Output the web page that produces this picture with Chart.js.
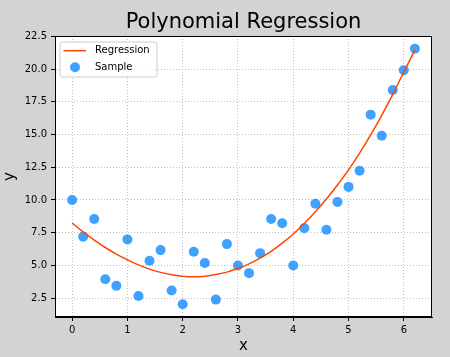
<!DOCTYPE html>
<html>
<head>
<meta charset="utf-8">
<script src="https://cdn.jsdelivr.net/npm/chart.js@4/dist/chart.umd.min.js"></script>
<style>
  html, body { margin: 0; padding: 0; background: #d3d3d3; }
  #wrap { width: 450px; height: 357px; }
</style>
</head>
<body>
<div id="wrap"><canvas id="c" width="450" height="357"></canvas></div>
<script>
// ---- data ----
const sampleX = [0, 0.2, 0.4, 0.6, 0.8, 1.0, 1.2, 1.4, 1.6, 1.8, 2.0, 2.2, 2.4, 2.6, 2.8, 3.0,
                 3.2, 3.4, 3.6, 3.8, 4.0, 4.2, 4.4, 4.6, 4.8, 5.0, 5.2, 5.4, 5.6, 5.8, 6.0, 6.2];
const sampleY = [10.0, 7.2, 8.55, 3.95, 3.44, 6.99, 2.67, 5.36, 6.17, 3.08, 2.04, 6.05, 5.18, 2.39, 6.63, 5.0,
                 4.41, 5.94, 8.55, 8.22, 5.0, 7.85, 9.72, 7.73, 9.85, 11.0, 12.24, 16.52, 14.91, 18.41, 19.92, 21.55];
const regressionX = [0, 0.2, 0.4, 0.6, 0.8, 1.0, 1.2, 1.4, 1.6, 1.8, 2.0, 2.2, 2.4, 2.6, 2.8, 3.0,
                     3.2, 3.4, 3.6, 3.8, 4.0, 4.2, 4.4, 4.6, 4.8, 5.0, 5.2, 5.4, 5.6, 5.8, 6.0, 6.2];
const regressionY = [8.24, 7.56, 6.94, 6.37, 5.86, 5.42, 5.04, 4.72, 4.47, 4.29, 4.18, 4.14, 4.18, 4.30, 4.49, 4.76,
                     5.12, 5.56, 6.08, 6.70, 7.40, 8.20, 9.10, 10.08, 11.15, 12.30, 13.58, 14.97, 16.47, 18.07, 19.78, 21.45];
const xTicks = [0, 1, 2, 3, 4, 5, 6];
const xTickLabels = ['0', '1', '2', '3', '4', '5', '6'];
const yTicks = [2.5, 5, 7.5, 10, 12.5, 15, 17.5, 20, 22.5];
const yTickLabels = ['2.5', '5.0', '7.5', '10.0', '12.5', '15.0', '17.5', '20.0', '22.5'];
const labels = { title: 'Polynomial Regression', x: 'x', y: 'y', line: 'Regression', points: 'Sample' };

const FONT = "'DejaVu Sans', 'Liberation Sans', sans-serif";
const LINE_COLOR = '#ff4500';
const POINT_COLOR = 'rgba(30,144,255,0.85)';

const bgPlugin = {
  id: 'bg',
  beforeDraw(chart) {
    const { ctx, chartArea: a } = chart;
    ctx.save();
    ctx.fillStyle = '#d3d3d3';
    ctx.fillRect(0, 0, chart.width, chart.height);
    ctx.fillStyle = '#ffffff';
    ctx.fillRect(a.left, a.top, a.right - a.left, a.bottom - a.top);
    ctx.restore();
  },
  afterDraw(chart) {
    const { ctx, chartArea: a } = chart;
    ctx.save();
    ctx.strokeStyle = '#000';
    ctx.lineWidth = 1;
    ctx.strokeRect(Math.round(a.left) + 0.5, Math.round(a.top) + 0.5,
                   Math.round(a.right - a.left) - 1, Math.round(a.bottom - a.top) - 1);
    // legend inside the plot, upper left
    const ds = chart.data.datasets;
    const bx = a.left + 5, by = a.top + 6, bw = 97, bh = 35, r = 2.5;
    ctx.beginPath();
    ctx.moveTo(bx + r, by);
    ctx.arcTo(bx + bw, by, bx + bw, by + bh, r);
    ctx.arcTo(bx + bw, by + bh, bx, by + bh, r);
    ctx.arcTo(bx, by + bh, bx, by, r);
    ctx.arcTo(bx, by, bx + bw, by, r);
    ctx.closePath();
    ctx.fillStyle = 'rgba(255,255,255,0.8)';
    ctx.fill();
    ctx.strokeStyle = '#cccccc';
    ctx.lineWidth = 1;
    ctx.stroke();
    ctx.font = '10px ' + FONT;
    ctx.textBaseline = 'middle';
    ctx.textAlign = 'left';
    ctx.fillStyle = '#000';
    // line entry
    const y1 = by + 8.7, y2 = by + 25.3;
    ctx.beginPath();
    ctx.moveTo(bx + 3.5, y1);
    ctx.lineTo(bx + 26, y1);
    ctx.strokeStyle = ds[0].borderColor;
    ctx.lineWidth = 1.5;
    ctx.stroke();
    ctx.fillText(ds[0].label, bx + 35, y1);
    // point entry
    ctx.beginPath();
    ctx.arc(bx + 15, y2, 5, 0, Math.PI * 2);
    ctx.fillStyle = ds[1].backgroundColor;
    ctx.fill();
    ctx.fillStyle = '#000';
    ctx.fillText(ds[1].label, bx + 35, y2);
    ctx.restore();
  }
};

new Chart(document.getElementById('c'), {
  type: 'scatter',
  data: {
    datasets: [
      {
        label: labels.line,
        data: regressionX.map((x, i) => ({ x, y: regressionY[i] })),
        showLine: true,
        borderColor: LINE_COLOR,
        backgroundColor: LINE_COLOR,
        borderWidth: 1.5,
        pointRadius: 0,
        pointHoverRadius: 0,
        cubicInterpolationMode: 'monotone',
        fill: false
      },
      {
        label: labels.points,
        data: sampleX.map((x, i) => ({ x, y: sampleY[i] })),
        backgroundColor: POINT_COLOR,
        borderColor: POINT_COLOR,
        borderWidth: 0,
        pointRadius: 5,
        pointHoverRadius: 5
      }
    ]
  },
  options: {
    responsive: false,
    animation: false,
    devicePixelRatio: 1,
    layout: { padding: { left: 0, right: 18, top: 0, bottom: 0 } },
    plugins: {
      legend: { display: false },
      tooltip: { enabled: false },
      title: {
        display: true,
        text: labels.title,
        fullSize: false,
        color: '#000',
        font: { family: FONT, size: 21, weight: 'normal', lineHeight: 1.2 },
        padding: { top: 10, bottom: 0.8 }
      }
    },
    scales: {
      x: {
        type: 'linear',
        min: -0.31,
        max: 6.51,
        afterFit(s) { s.height = 40; },
        afterBuildTicks(s) { s.ticks = xTicks.map(v => ({ value: v })); },
        ticks: {
          color: '#000',
          font: { family: FONT, size: 10 },
          padding: 3,
          autoSkip: false,
          maxRotation: 0,
          callback: (v) => xTickLabels[xTicks.indexOf(v)]
        },
        grid: {
          color: '#b0b0b0',
          lineWidth: 0.8,
          tickColor: '#000',
          tickLength: 4,
          tickWidth: 1,
          tickBorderDash: []
        },
        border: { display: true, color: '#000', width: 1, dash: [1, 2] },
        title: {
          display: true,
          text: labels.x,
          color: '#000',
          font: { family: FONT, size: 15, lineHeight: 1.2 },
          padding: { top: 0, bottom: 2 }
        }
      },
      y: {
        type: 'linear',
        min: 1.06,
        max: 22.53,
        afterFit(s) { s.width = 55; },
        afterBuildTicks(s) { s.ticks = yTicks.map(v => ({ value: v })); },
        ticks: {
          color: '#000',
          font: { family: FONT, size: 10 },
          padding: 4,
          autoSkip: false,
          callback: (v) => yTickLabels[yTicks.indexOf(v)]
        },
        grid: {
          color: '#b0b0b0',
          lineWidth: 0.8,
          tickColor: '#000',
          tickLength: 4,
          tickWidth: 1,
          tickBorderDash: []
        },
        border: { display: true, color: '#000', width: 1, dash: [1, 2] },
        title: {
          display: true,
          text: labels.y,
          color: '#000',
          font: { family: FONT, size: 15, lineHeight: 1.2 },
          padding: { top: 1, bottom: 0 }
        }
      }
    }
  },
  plugins: [bgPlugin]
});
</script>
</body>
</html>
